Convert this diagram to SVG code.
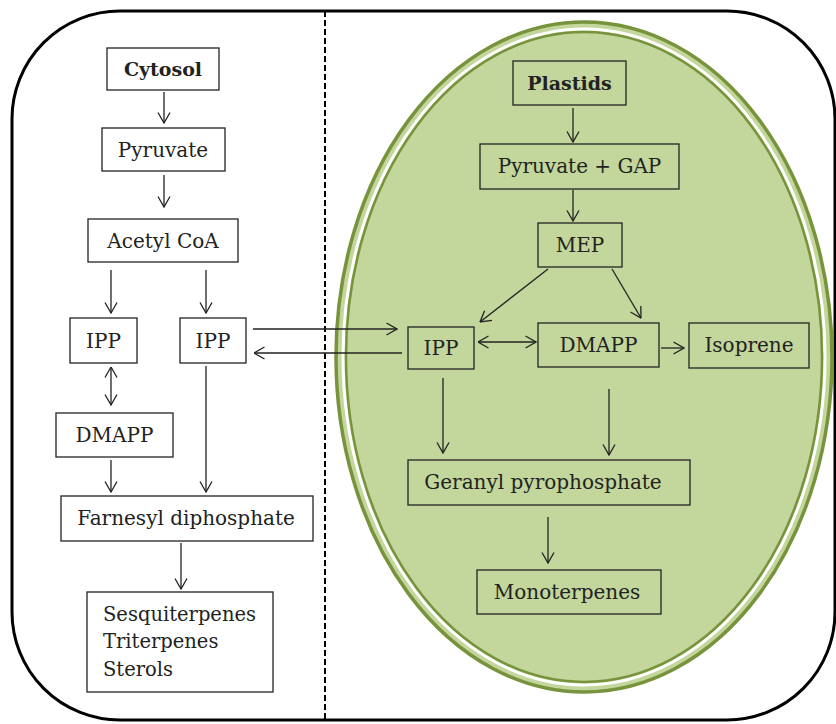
<svg xmlns="http://www.w3.org/2000/svg" width="836" height="724" viewBox="0 0 836 724">
<defs>
<style>
.box{fill:none;stroke:#222;stroke-width:1.3}
.t{font-family:"DejaVu Serif","Liberation Serif",serif;font-size:20px;fill:#222;text-anchor:middle}
.b{font-weight:bold;font-size:19px}
.l{text-anchor:start;font-size:19.5px}
.c{stroke:#222;stroke-width:1.3;fill:none;marker-end:url(#ah)}
.d{marker-start:url(#ah)}
</style>
<marker id="ah" viewBox="0 0 12 14" markerWidth="12" markerHeight="14" refX="11.5" refY="7" orient="auto-start-reverse" markerUnits="userSpaceOnUse">
<path d="M1,1 L11.5,7 L1,13" fill="none" stroke="#222" stroke-width="1.3"/>
</marker>
</defs>
<rect x="12" y="11" width="823" height="709" rx="108" ry="108" fill="#fff" stroke="#000" stroke-width="3"/>
<line x1="325" y1="11" x2="325" y2="720" stroke="#000" stroke-width="2" stroke-dasharray="6,3"/>
<g id="plastid">
<ellipse cx="584" cy="357" rx="248" ry="335" fill="#c3d69b" stroke="#77933c" stroke-width="3.5"/>
<ellipse cx="584" cy="357" rx="241" ry="328" fill="none" stroke="#fff" stroke-width="3"/>
<ellipse cx="584" cy="357" rx="238" ry="325" fill="none" stroke="#77933c" stroke-width="2.5"/>
</g>
<g id="n-cytosol"><rect class="box" x="107" y="48" width="112" height="42"/><text class="t b" x="163" y="76">Cytosol</text></g>
<g id="n-pyruvate"><rect class="box" x="102" y="128" width="123" height="43"/><text class="t" x="163" y="157">Pyruvate</text></g>
<g id="n-acetyl"><rect class="box" x="88" y="219" width="150" height="43"/><text class="t" x="163" y="248">Acetyl CoA</text></g>
<g id="n-ipp1"><rect class="box" x="70" y="318" width="67" height="45"/><text class="t" x="103.5" y="348">IPP</text></g>
<g id="n-ipp2"><rect class="box" x="180" y="318" width="66" height="45"/><text class="t" x="213" y="348">IPP</text></g>
<g id="n-dmapp1"><rect class="box" x="56" y="413" width="117" height="44"/><text class="t" x="114.5" y="442">DMAPP</text></g>
<g id="n-farnesyl"><rect class="box" x="61" y="496" width="252" height="45"/><text class="t" x="186" y="525">Farnesyl diphosphate</text></g>
<g id="n-sesq"><rect class="box" x="87" y="592" width="186" height="100"/><text class="t l" x="103" y="621">Sesquiterpenes</text><text class="t l" x="103" y="648">Triterpenes</text><text class="t l" x="103" y="676">Sterols</text></g>
<g id="n-plastids"><rect class="box" x="513" y="61" width="113" height="44"/><text class="t b" x="569.5" y="90">Plastids</text></g>
<g id="n-pyrgap"><rect class="box" x="480" y="144" width="199" height="45"/><text class="t" x="579.5" y="173">Pyruvate + GAP</text></g>
<g id="n-mep"><rect class="box" x="538" y="223" width="84" height="44"/><text class="t" x="580" y="252">MEP</text></g>
<g id="n-ipp3"><rect class="box" x="408" y="327" width="66" height="42"/><text class="t" x="441" y="355">IPP</text></g>
<g id="n-dmapp2"><rect class="box" x="538" y="323" width="121" height="44"/><text class="t" x="598.5" y="352">DMAPP</text></g>
<g id="n-isoprene"><rect class="box" x="689" y="323" width="120" height="45"/><text class="t" x="749" y="352">Isoprene</text></g>
<g id="n-geranyl"><rect class="box" x="408" y="460" width="282" height="45"/><text class="t" x="543" y="489">Geranyl pyrophosphate</text></g>
<g id="n-mono"><rect class="box" x="477" y="570" width="184" height="44"/><text class="t" x="567" y="599">Monoterpenes</text></g>
<g id="connectors">
<line class="c" x1="164" y1="92" x2="164" y2="123"/>
<line class="c" x1="164" y1="175" x2="164" y2="207"/>
<line class="c" x1="111" y1="270" x2="111" y2="313"/>
<line class="c" x1="206" y1="270" x2="206" y2="313"/>
<line class="c d" x1="111" y1="367" x2="111" y2="405"/>
<line class="c" x1="111" y1="460" x2="111" y2="492"/>
<line class="c" x1="206" y1="366" x2="206" y2="492"/>
<line class="c" x1="181" y1="543" x2="181" y2="589"/>
<line class="c" x1="253" y1="329" x2="397" y2="329"/>
<line class="c" x1="402" y1="353" x2="254" y2="353"/>
<line class="c" x1="573" y1="108" x2="573" y2="142"/>
<line class="c" x1="573" y1="190" x2="573" y2="221"/>
<line class="c" x1="548" y1="269" x2="480" y2="322"/>
<line class="c" x1="612" y1="269" x2="641" y2="318"/>
<line class="c d" x1="478" y1="342" x2="536" y2="342"/>
<line class="c" x1="661" y1="348" x2="684" y2="348"/>
<line class="c" x1="443" y1="378" x2="443" y2="453"/>
<line class="c" x1="609" y1="389" x2="609" y2="455"/>
<line class="c" x1="548" y1="517" x2="548" y2="563"/>
</g>
</svg>
